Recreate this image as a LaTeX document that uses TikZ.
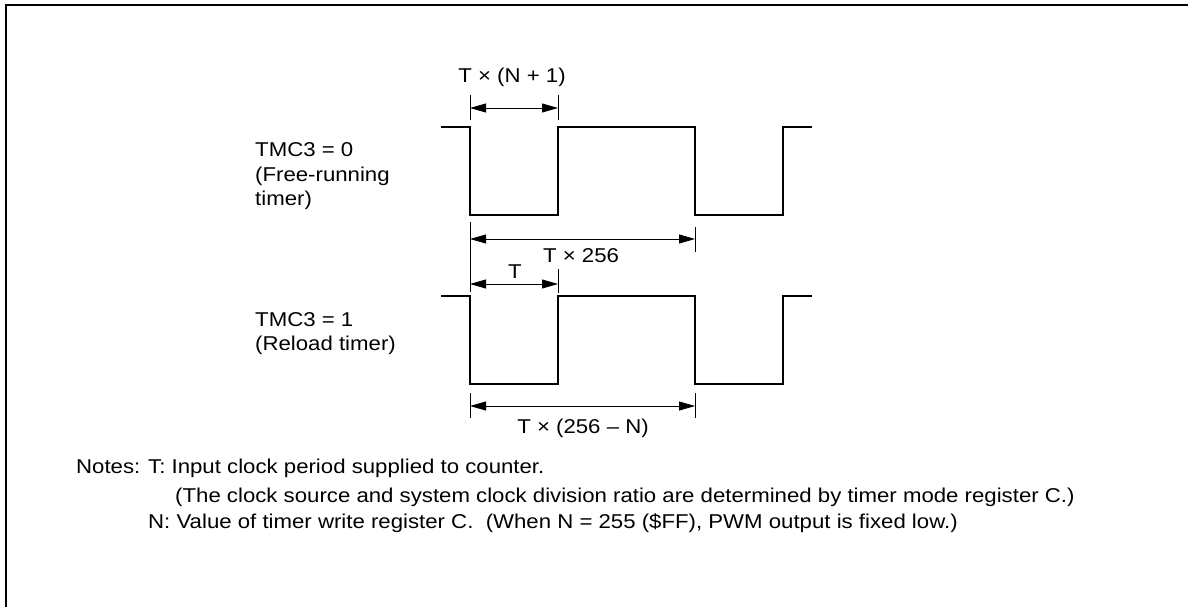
\documentclass[tikz,border=0pt]{standalone}
\usepackage{fontspec}
\setmainfont{Liberation Sans}[FakeStretch=1.11]
\usetikzlibrary{arrows.meta}
\begin{document}
\begin{tikzpicture}[x=1pt,y=-1pt,
  wave/.style={line width=1.2pt},
  dim/.style={line width=0.8pt,{Triangle[length=16pt,width=9pt]}-{Triangle[length=16pt,width=9pt]}},
  tickline/.style={line width=0.8pt},
  lbl/.style={inner sep=0pt,anchor=base,font=\fontsize{20}{25}\selectfont},
  txt/.style={inner sep=0pt,anchor=base west,font=\fontsize{20}{25}\selectfont},
  frameline/.style={line width=2pt}]
\useasboundingbox (0,0) rectangle (1188,607);
% frame
\coordinate (fbl) at (6,607);
\coordinate (ftl) at (6,5);
\coordinate (ftr) at (1188,5);
\draw[frameline] (fbl) -- (ftl) -- (ftr);

% waveform 1
\coordinate (w1a) at (441,127);
\coordinate (w1b) at (470,127);
\coordinate (w1c) at (470,215);
\coordinate (w1d) at (558,215);
\coordinate (w1e) at (558,127);
\coordinate (w1f) at (695,127);
\coordinate (w1g) at (695,215);
\coordinate (w1h) at (783,215);
\coordinate (w1i) at (783,127);
\coordinate (w1j) at (812,127);
\draw[wave] (w1a) -- (w1b) -- (w1c) -- (w1d) -- (w1e) -- (w1f) -- (w1g) -- (w1h) -- (w1i) -- (w1j);

% waveform 2
\coordinate (w2a) at (441,296);
\coordinate (w2b) at (470,296);
\coordinate (w2c) at (470,384);
\coordinate (w2d) at (558,384);
\coordinate (w2e) at (558,296);
\coordinate (w2f) at (695,296);
\coordinate (w2g) at (695,384);
\coordinate (w2h) at (783,384);
\coordinate (w2i) at (783,296);
\coordinate (w2j) at (812,296);
\draw[wave] (w2a) -- (w2b) -- (w2c) -- (w2d) -- (w2e) -- (w2f) -- (w2g) -- (w2h) -- (w2i) -- (w2j);

% dimension 1: T x (N+1)
\coordinate (t1a) at (470,95);  \coordinate (t1b) at (470,120);
\coordinate (t1c) at (558,95);  \coordinate (t1d) at (558,120);
\draw[tickline] (t1a) -- (t1b);
\draw[tickline] (t1c) -- (t1d);
\coordinate (d1l) at (470,108); \coordinate (d1r) at (558,108);
\draw[dim] (d1l) -- (d1r);
\node[lbl] (l1) at (512,83) {T × (N + 1)};

% dimension 2: T x 256
\coordinate (t2a) at (470,222); \coordinate (t2b) at (470,292);
\coordinate (t2c) at (695,227); \coordinate (t2d) at (695,252);
\draw[tickline] (t2a) -- (t2b);
\draw[tickline] (t2c) -- (t2d);
\coordinate (d2l) at (470,239); \coordinate (d2r) at (695,239);
\draw[dim] (d2l) -- (d2r);
\node[lbl] (l2) at (581,262) {T × 256};

% dimension 3: T
\coordinate (t3c) at (558,269); \coordinate (t3d) at (558,293);
\draw[tickline] (t3c) -- (t3d);
\coordinate (d3l) at (470,284); \coordinate (d3r) at (558,284);
\draw[dim] (d3l) -- (d3r);
\node[lbl] (l3) at (515,278) {T};

% dimension 4: T x (256 - N)
\coordinate (t4a) at (470,393); \coordinate (t4b) at (470,418);
\coordinate (t4c) at (695,393); \coordinate (t4d) at (695,418);
\draw[tickline] (t4a) -- (t4b);
\draw[tickline] (t4c) -- (t4d);
\coordinate (d4l) at (470,406); \coordinate (d4r) at (695,406);
\draw[dim] (d4l) -- (d4r);
\node[lbl] (l4) at (583,433) {T × (256 – N)};

% left labels
\node[txt] (m0a) at (255,156) {TMC3 = 0};
\node[txt] (m0b) at (255,181) {(Free-running};
\node[txt] (m0c) at (255,205) {timer)};
\node[txt] (m1a) at (255,326) {TMC3 = 1};
\node[txt] (m1b) at (255,350) {(Reload timer)};

% notes
\node[txt] (n0) at (76,473) {Notes:};
\node[txt] (n1) at (148,473) {T: Input clock period supplied to counter.};
\node[txt] (n2) at (175,502) {(The clock source and system clock division ratio are determined by timer mode register C.)};
\node[txt] (n3) at (148,528) {N: Value of timer write register C.\ \ (When N = 255 (\$FF), PWM output is fixed low.)};
\end{tikzpicture}
\end{document}
